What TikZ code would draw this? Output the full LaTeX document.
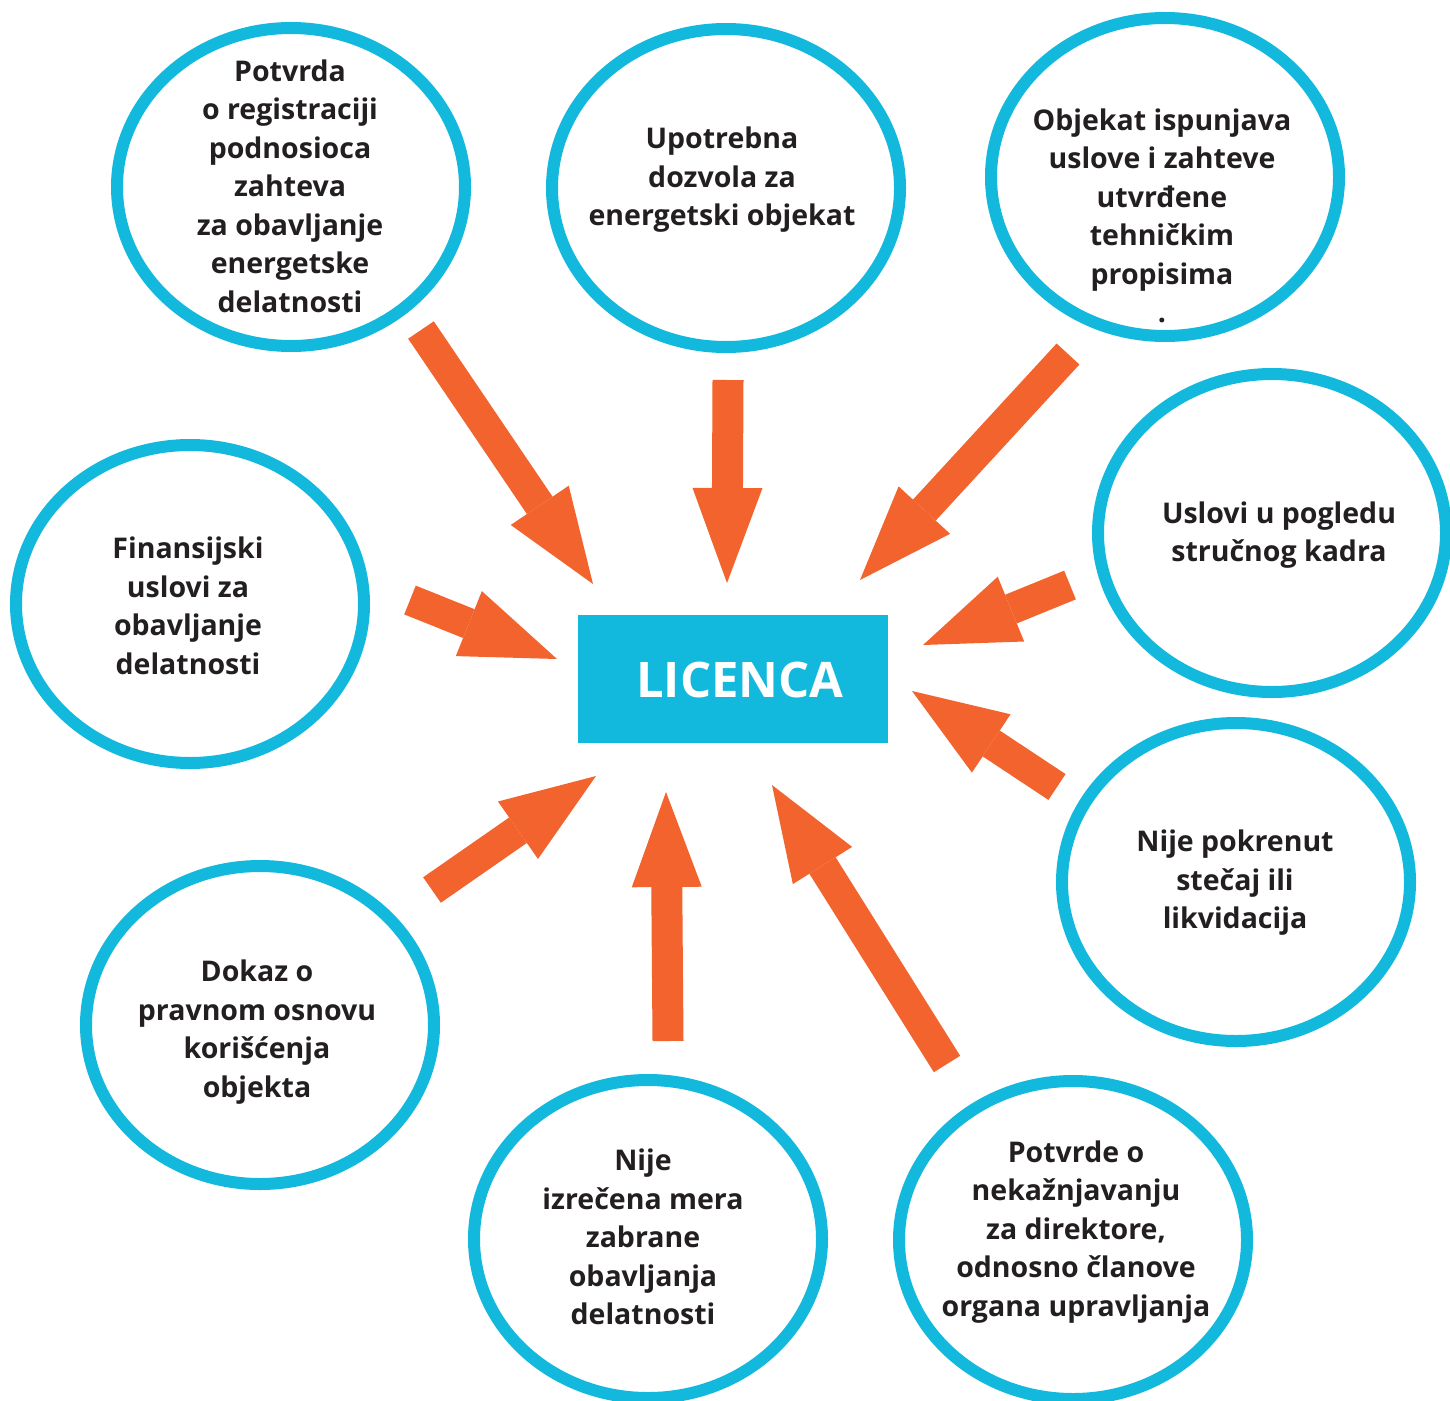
\documentclass[tikz,border=0pt]{standalone}
\usepackage{fontspec}
\setmainfont{Open Sans}
\usetikzlibrary{shapes.geometric,arrows.meta}
\definecolor{licblue}{RGB}{19,185,221}
\definecolor{licorange}{RGB}{242,99,46}
\definecolor{licdark}{RGB}{35,31,32}

\begin{document}
\begin{tikzpicture}[x=1pt,y=-1pt,
  bubble/.style={ellipse,draw=licblue,line width=12pt,fill=white,minimum width=348pt,minimum height=318pt,inner sep=0pt},
  txt/.style={align=center,text=licdark,font=\bfseries\fontsize{28.5}{38.5}\selectfont},
  push/.style={licorange,line width=31pt,-{Triangle[length=95pt,width=70pt,line width=0pt]}}]
\useasboundingbox (0,0) rectangle (1450,1400);
\node[bubble] (reg) at (291,187) {};
\node[txt] (reg-t) at (290,186) {Potvrda\\o registraciji\\podnosioca\\zahteva\\za obavljanje\\energetske\\delatnosti};
\node[bubble] (upo) at (726,188) {};
\node[txt] (upo-t) at (722,180) {Upotrebna\\dozvola za\\energetski objekat};
\node[bubble] (teh) at (1165,177) {};
\node[txt] (teh-t) at (1162,216) {Objekat ispunjava\\uslove i zahteve\\utvrđene\\tehničkim\\propisima\\.};
\node[bubble] (kadar) at (1272,533) {};
\node[txt] (kadar-t) at (1279,535) {Uslovi u pogledu\\stručnog kadra};
\node[bubble] (fin) at (190,604) {};
\node[txt] (fin-t) at (188,606) {Finansijski\\uslovi za\\obavljanje\\delatnosti};
\node[bubble] (stec) at (1236,882) {};
\node[txt] (stec-t) at (1235,883) {Nije pokrenut\\stečaj ili\\likvidacija};
\node[bubble] (prav) at (260,1025) {};
\node[txt] (prav-t) at (257,1032) {Dokaz o\\pravnom osnovu\\korišćenja\\objekta};
\node[bubble] (zabr) at (648,1239) {};
\node[txt] (zabr-t) at (643,1237) {Nije\\izrečena mera\\zabrane\\obavljanja\\delatnosti};
\node[bubble] (kazn) at (1073,1240) {};
\node[txt] (kazn-t) at (1076,1232) {Potvrde o\\nekažnjavanju\\za direktore,\\odnosno članove\\organa upravljanja};
\node[fill=licblue,minimum width=310pt,minimum height=128pt] (lic) at (733,679) {};
\node[text=white,font=\bfseries\fontsize{49}{56}\selectfont] (lic-t) at (740,680) {LICENCA};
\coordinate (reg-a) at (421,330);
\coordinate (reg-b) at (593,584);
\coordinate (upo-a) at (728,380);
\coordinate (upo-b) at (727,583);
\coordinate (teh-a) at (1068,354);
\coordinate (teh-b) at (860,580);
\coordinate (kadar-a) at (1070,585);
\coordinate (kadar-b) at (923,645);
\coordinate (fin-a) at (410,600);
\coordinate (fin-b) at (557,659);
\coordinate (stec-a) at (1057,787);
\coordinate (stec-b) at (912,691);
\coordinate (prav-a) at (432,890);
\coordinate (prav-b) at (596,776);
\coordinate (zabr-a) at (668,1041);
\coordinate (zabr-b) at (666,792);
\coordinate (kazn-a) at (947,1064);
\coordinate (kazn-b) at (772,785);
\draw[push] (reg-a) -- (reg-b);
\draw[push] (upo-a) -- (upo-b);
\draw[push] (teh-a) -- (teh-b);
\draw[push] (kadar-a) -- (kadar-b);
\draw[push] (fin-a) -- (fin-b);
\draw[push] (stec-a) -- (stec-b);
\draw[push] (prav-a) -- (prav-b);
\draw[push] (zabr-a) -- (zabr-b);
\draw[push] (kazn-a) -- (kazn-b);
\end{tikzpicture}
\end{document}
